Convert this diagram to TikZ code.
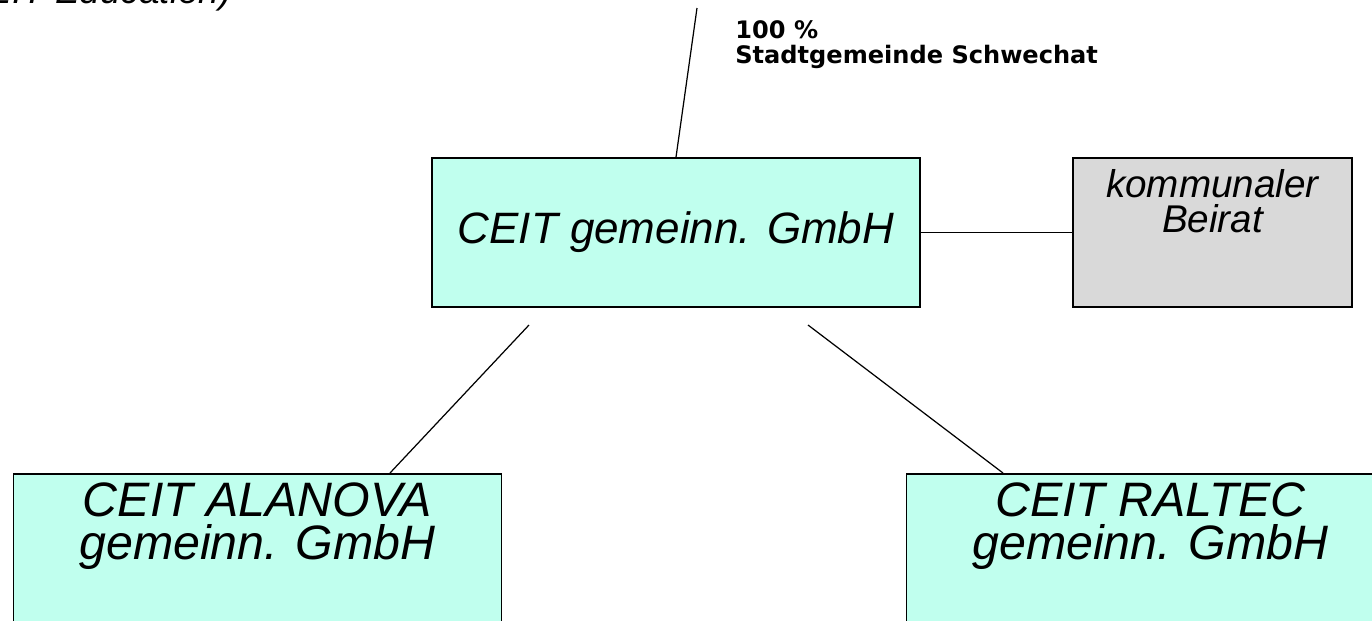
\documentclass[tikz,border=0pt]{standalone}
\usepackage{fontspec}
\setmainfont{Liberation Sans}
\newfontfamily\sharefont{DejaVu Sans}
\usepackage{tikz}
\definecolor{boxcyan}{RGB}{192,255,238}
\definecolor{boxgray}{RGB}{217,217,217}

\begin{document}
\begin{tikzpicture}[
  box/.style={draw, line width=0.9pt, rectangle, inner sep=0pt},
  firm/.style={box, fill=boxcyan, minimum width=9.76cm, minimum height=2.98cm},
  boxtext/.style={anchor=north, inner sep=0pt, align=center},
  link/.style={line width=0.7pt}]
\useasboundingbox (0,0) rectangle (27.44,-12.4);
\clip (0,0) rectangle (27.44,-12.4);
% \draw[step=1cm,gray,very thin] (0,0) grid (27.44,-12.4);

%% cut-off title
\node[anchor=base east, inner sep=0pt, font=\fontsize{21}{24}\selectfont\itshape] (edu) at (4.64,-0.06)
  {(CEIT Education)};

%% holding
\node[firm, font=\fontsize{25}{28}\selectfont\itshape] (ceit) at (13.52,-4.65) {CEIT gemeinn. GmbH};
\coordinate (owner) at (13.94,-0.16);
\draw[link] (ceit.north) -- (owner);
\node[anchor=north west, inner sep=0pt, align=left, font=\sharefont\bfseries\fontsize{13.7}{14.2}\selectfont]
  (share) at (14.7,-0.4) {100 \%\\Stadtgemeinde Schwechat};

%% advisory board
\node[box, fill=boxgray, minimum width=5.58cm, minimum height=2.98cm] (beirat) at (24.25,-4.65) {};
\node[boxtext, yshift=-0.24cm, font=\fontsize{22}{20}\selectfont\itshape] (beiratlbl) at (beirat.north)
  {kommunaler\\Beirat};
\draw[link] (ceit.east) -- (beirat.west);

%% subsidiaries
\node[firm] (alanova) at (5.15,-10.97) {};
\node[boxtext, yshift=-0.18cm, font=\fontsize{27.5}{24.6}\selectfont\itshape] (alanovalbl) at (alanova.north)
  {CEIT ALANOVA\\gemeinn. GmbH};
\node[firm] (raltec) at (23.01,-10.97) {};
\node[boxtext, yshift=-0.18cm, font=\fontsize{27.5}{24.6}\selectfont\itshape] (raltecllbl) at (raltec.north)
  {CEIT RALTEC\\gemeinn. GmbH};

\coordinate (la) at (10.58,-6.5);
\coordinate (lb) at (7.8,-9.46);
\coordinate (ra) at (16.16,-6.5);
\coordinate (rb) at (20.06,-9.46);
\draw[link] (la) -- (lb);
\draw[link] (ra) -- (rb);
\end{tikzpicture}
\end{document}
